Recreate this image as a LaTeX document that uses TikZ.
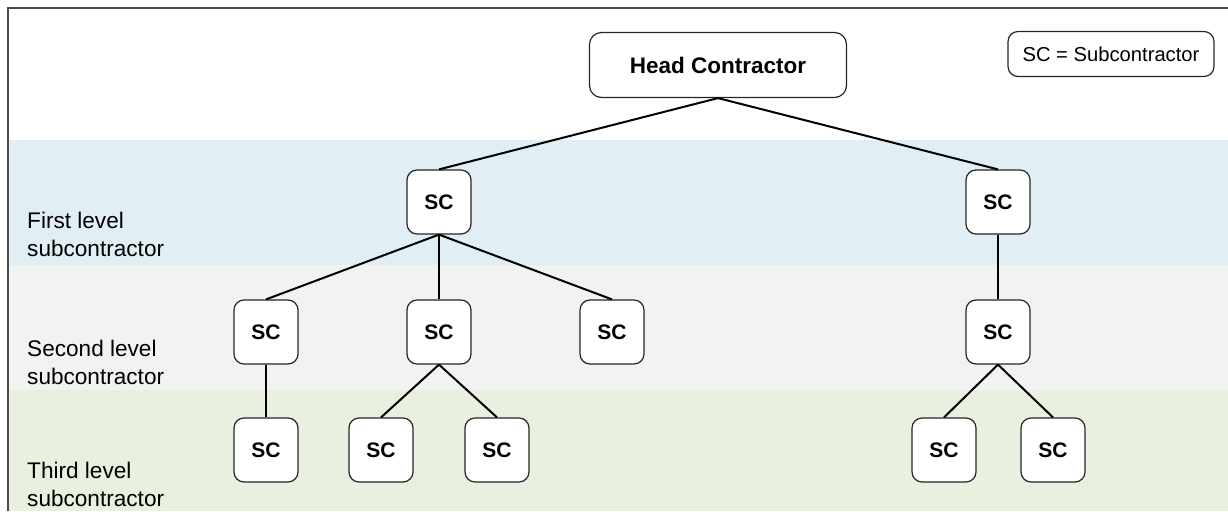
\documentclass[tikz,border=0pt]{standalone}
\usepackage{fontspec}
\setmainfont{Liberation Sans}
\usetikzlibrary{positioning}

\definecolor{firstband}{HTML}{E1EFF4}
\definecolor{secondband}{HTML}{F2F2F2}
\definecolor{thirdband}{HTML}{E9F0DF}

\begin{document}
\begin{tikzpicture}[x=1pt, y=-1pt, node distance=52pt]
  \tikzset{sc/.style={rectangle,draw=black!85,line width=1.2pt,rounded corners=10pt,fill=white,minimum size=64pt,font=\fontsize{21}{25}\selectfont\bfseries},
    link/.style={line width=2pt},
    level/.style={anchor=west,align=left,inner sep=0pt,font=\fontsize{22.6}{28.5}\selectfont}}
  \useasboundingbox (0,0) rectangle (1228,511);

  % level bands
  \fill[firstband] (9,140) rectangle (1228,265);
  \fill[secondband] (9,265) rectangle (1228,390);
  \fill[thirdband] (9,390) rectangle (1228,511);
  \draw[black!70, line width=1.8pt] (8,511) -- (8,8) -- (1228,8);

  \node[level] (l1) at (27,234.5) {First level\\subcontractor};
  \node[level] (l2) at (27,362.5) {Second level\\subcontractor};
  \node[level] (l3) at (27,484.5) {Third level\\subcontractor};

  \node[rectangle,draw=black!85,line width=1.2pt,rounded corners=12pt,minimum width=257pt,minimum height=65pt,
    font=\fontsize{22.5}{26}\selectfont\bfseries] (hc) at (718,65) {Head Contractor};
  \node[rectangle,draw=black!85,line width=1.2pt,rounded corners=10pt,minimum width=206pt,minimum height=45pt,
    font=\fontsize{20.2}{24}\selectfont] (key) at (1111,54) {SC = Subcontractor};

  % first level
  \node[sc] (a) at (439,202) {SC};
  \node[sc] (b) at (998,202) {SC};
  % second level
  \node[sc] (a1) at (266,332) {SC};
  \node[sc] (a2) at (439,332) {SC};
  \node[sc] (a3) at (612,332) {SC};
  \node[sc] (b1) at (998,332) {SC};
  % third level
  \node[sc] (a11) at (266,450) {SC};
  \node[sc] (a21) at (381,450) {SC};
  \node[sc] (a22) at (497,450) {SC};
  \node[sc] (b11) at (944,450) {SC};
  \node[sc] (b12) at (1053,450) {SC};

  \draw[link] (hc.south) -- (a.north);
  \draw[link] (hc.south) -- (b.north);
  \draw[link] (a.south) -- (a1.north);
  \draw[link] (a.south) -- (a2.north);
  \draw[link] (a.south) -- (a3.north);
  \draw[link] (b.south) -- (b1.north);
  \draw[link] (a1.south) -- (a11.north);
  \draw[link] (a2.south) -- (a21.north);
  \draw[link] (a2.south) -- (a22.north);
  \draw[link] (b1.south) -- (b11.north);
  \draw[link] (b1.south) -- (b12.north);
\end{tikzpicture}
\end{document}
